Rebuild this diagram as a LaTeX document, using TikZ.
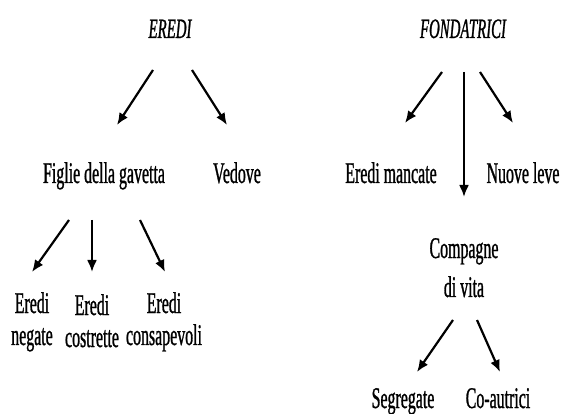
\documentclass[tikz,border=0pt]{standalone}
\usepackage{fontspec}
\setmainfont{Liberation Serif}[FakeStretch=0.53,FakeBold=0.9]
\usepackage{tikz}
\usetikzlibrary{arrows.meta,calc}

\begin{document}
\begin{tikzpicture}[x=1pt,y=1pt,
    lbl/.style={inner sep=0pt, anchor=base, align=center, font=\fontsize{30}{32}\selectfont},
    ttl/.style={lbl, font=\fontsize{28}{32}\selectfont\itshape},
    arr/.style={-{Latex[length=12pt,width=10pt]}, line width=2.2pt}]
    \useasboundingbox (0,0) rectangle (563,413);
    % titles
    \node[ttl] (eredi) at (170,375) {EREDI};
    \node[ttl] (fond) at (463,375) {FONDATRICI};
    % second row
    \node[lbl] (figlie) at (104,230) {Figlie della gavetta};
    \node[lbl] (vedove) at (237,230) {Vedove};
    \node[lbl] (mancate) at (391,230) {Eredi mancate};
    \node[lbl] (nuove) at (523,230) {Nuove leve};
    \node[lbl] (compagne) at (464,116) {Compagne\\[7pt]di vita};
    % bottom row
    \node[lbl] (negate) at (32,68) {Eredi\\negate};
    \node[lbl] (costrette) at (92,66) {Eredi\\costrette};
    \node[lbl] (consapevoli) at (164,68) {Eredi\\consapevoli};
    \node[lbl] (segregate) at (403,5) {Segregate};
    \node[lbl] (coautrici) at (498,5) {Co-autrici};
    % arrows
    \draw[arr] ([shift={(-17,-32)}]eredi.base) -- ([shift={(13,58)}]figlie.base);
    \draw[arr] ([shift={(22,-32)}]eredi.base) -- ([shift={(-10,58)}]vedove.base);
    \draw[arr] ([shift={(-21,-34)}]fond.base) -- ([shift={(14,60)}]mancate.base);
    \draw[arr] ([shift={(1,-34)}]fond.base) -- ([shift={(0,100)}]compagne.base);
    \draw[arr] ([shift={(17,-34)}]fond.base) -- ([shift={(-10,60)}]nuove.base);
    \draw[arr] ([shift={(-35,-37)}]figlie.base) -- ([shift={(0,73)}]negate.base);
    \draw[arr] ([shift={(-12,-37)}]figlie.base) -- ([shift={(0,75)}]costrette.base);
    \draw[arr] ([shift={(36,-37)}]figlie.base) -- ([shift={(1,73)}]consapevoli.base);
    \draw[arr] ([shift={(-11,-23)}]compagne.base) -- ([shift={(14,36)}]segregate.base);
    \draw[arr] ([shift={(13,-23)}]compagne.base) -- ([shift={(2,36)}]coautrici.base);
\end{tikzpicture}
\end{document}
